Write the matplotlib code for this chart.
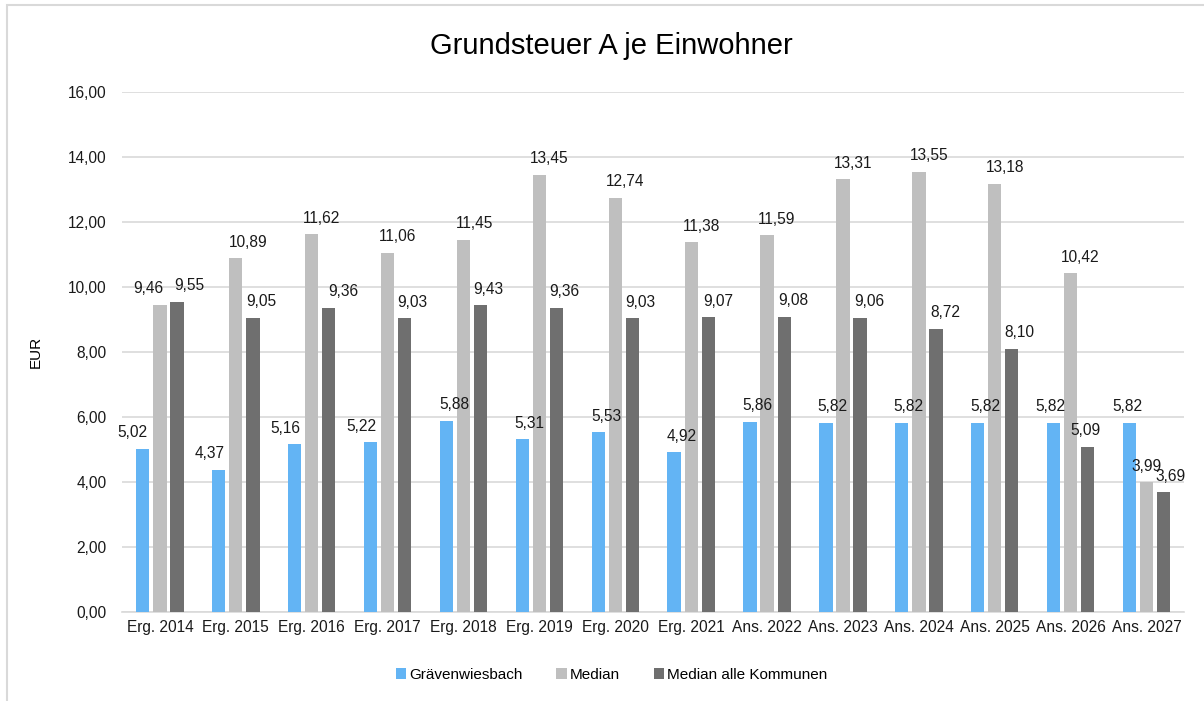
import numpy as np
import matplotlib.pyplot as plt
from matplotlib.patches import Rectangle

plt.rcParams['font.family'] = ['Liberation Sans', 'DejaVu Sans']

# Daten
kategorien = ['Erg. 2014', 'Erg. 2015', 'Erg. 2016', 'Erg. 2017', 'Erg. 2018', 'Erg. 2019',
              'Erg. 2020', 'Erg. 2021', 'Ans. 2022', 'Ans. 2023', 'Ans. 2024', 'Ans. 2025',
              'Ans. 2026', 'Ans. 2027']
graevenwiesbach = [5.02, 4.37, 5.16, 5.22, 5.88, 5.31, 5.53, 4.92, 5.86, 5.82, 5.82, 5.82, 5.82, 5.82]
median = [9.46, 10.89, 11.62, 11.06, 11.45, 13.45, 12.74, 11.38, 11.59, 13.31, 13.55, 13.18, 10.42, 3.99]
median_alle = [9.55, 9.05, 9.36, 9.03, 9.43, 9.36, 9.03, 9.07, 9.08, 9.06, 8.72, 8.10, 5.09, 3.69]

# seitliche Verschiebung der Beschriftungen (Pixel), wie im Original
dx_blau = [-10, -9, -9, -9, 8, 7, 8, 8, 7, 7, 7, 8, -3, -2]
dx_hell = [-12, 12, 10, 10, 11, 10, 10, 10, 9, 10, 10, 10, 10, 0]
dx_dunkel = [12, 8, 15, 8, 8, 8, 8, 10, 9, 9, 9, 8, -2, 7]

serien = [('Grävenwiesbach', graevenwiesbach, '#63B4F4', dx_blau),
          ('Median', median, '#BFBFBF', dx_hell),
          ('Median alle Kommunen', median_alle, '#6F6F6F', dx_dunkel)]

fig = plt.figure(figsize=(12.04, 7.01), dpi=100)
ax = fig.add_axes([0.1013, 0.127, 0.8825, 0.7418])

x = np.arange(len(kategorien))
breite = 0.175
schritt = 0.225
for i, (name, werte, farbe, dx) in enumerate(serien):
    pos = x + (i - 1) * schritt
    ax.bar(pos, werte, width=breite, color=farbe, label=name, zorder=3)
    for p, v, d in zip(pos, werte, dx):
        ax.annotate(f'{v:.2f}'.replace('.', ','), (p, v), xytext=(d, 16),
                    textcoords='offset pixels', ha='center', va='center',
                    fontsize=11.2, color='#1a1a1a', zorder=10)

ax.set_xlim(-0.5, len(kategorien) - 0.5)
ax.set_ylim(0, 16)
ax.set_yticks(np.arange(0, 17, 2))
ax.set_yticklabels([f'{t:.2f}'.replace('.', ',') for t in np.arange(0, 17, 2)])
ax.set_xticks(x)
ax.set_xticklabels(kategorien)
ax.tick_params(axis='both', length=0, labelsize=11.2, colors='#1a1a1a')
ax.tick_params(axis='y', pad=11)
ax.tick_params(axis='x', pad=6)
ax.grid(axis='y', color='#D9D9D9', linewidth=1.2, zorder=0)
for s in ['top', 'right', 'left']:
    ax.spines[s].set_visible(False)
ax.spines['bottom'].set_color('#D9D9D9')
ax.spines['bottom'].set_linewidth(1.2)
ax.set_ylabel('EUR', fontsize=11, labelpad=18)

fig.text(0.508, 0.935, 'Grundsteuer A je Einwohner', ha='center', va='center', fontsize=21)

fig.legend(loc='center', bbox_to_anchor=(0.508, 0.037), ncol=3, frameon=False,
           fontsize=11, handlelength=0.7, handleheight=0.7, handletextpad=0.2,
           columnspacing=2.2)

# Rahmen
fig.patches.append(Rectangle((0.006, -0.01), 1.0, 1.003, transform=fig.transFigure,
                             fill=False, edgecolor='#D9D9D9', linewidth=1.5))

fig.savefig('out.png', dpi=100)
